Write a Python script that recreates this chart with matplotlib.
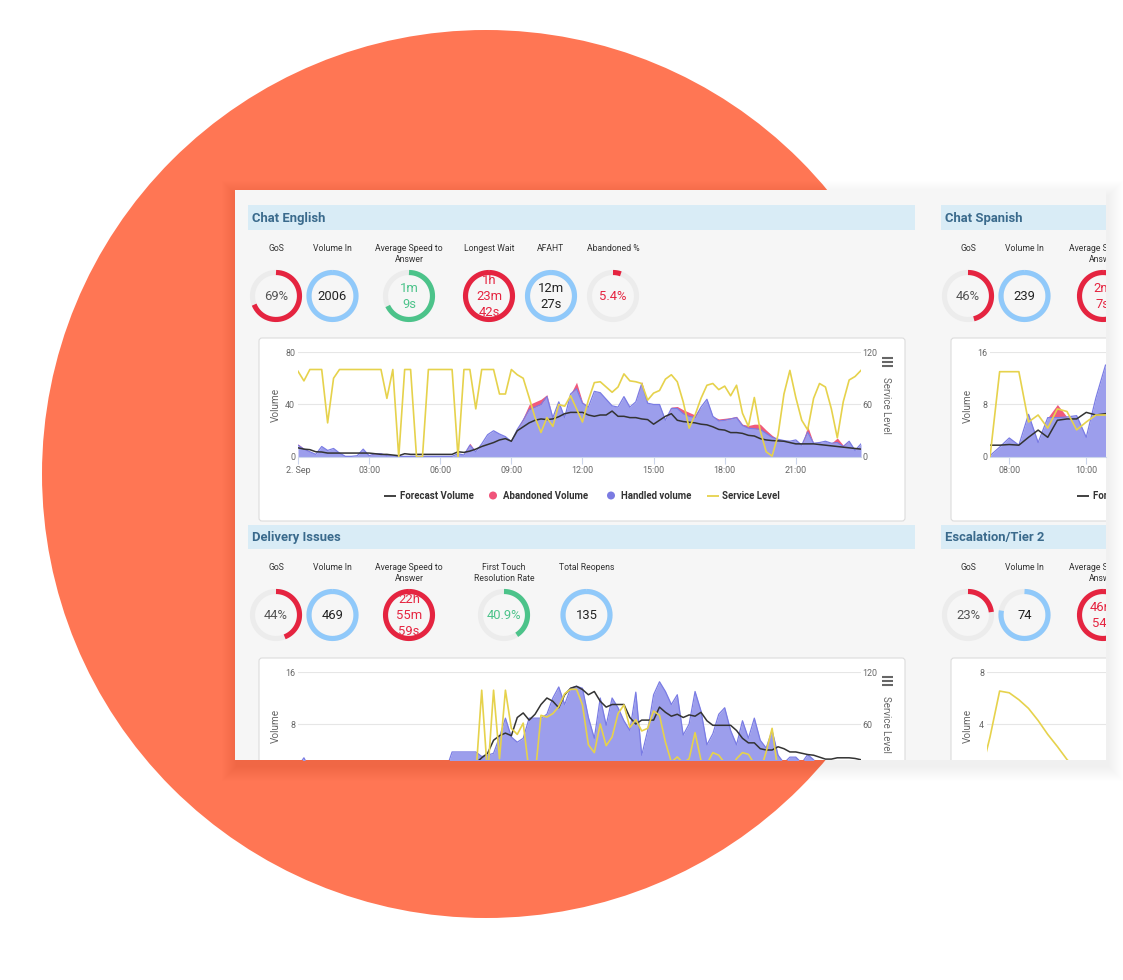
import numpy as np
import matplotlib
matplotlib.use("Agg")
import matplotlib.pyplot as plt
from matplotlib.patches import Rectangle, Circle, FancyBboxPatch

plt.rcParams['font.family'] = ['Roboto', 'DejaVu Sans']

W, H = 1123, 980

# ---------------- data ----------------
# 15-minute samples over the day (hours)
day_hours = [i * 0.25 for i in range(96)]
day_tick_hours = [0, 3, 6, 9, 12, 15, 18, 21]
day_tick_labels = ["2. Sep", "03:00", "06:00", "09:00", "12:00", "15:00", "18:00", "21:00"]

ce_handled = [9, 6, 4, 2, 8, 5, 6.5, 3, 0.5, 0.5,
              1, 6, 1, 2.5, 2.5, 1, 0.8, 0.5, 0.5, 0.5,
              0.5, 0.5, 0.5, 0.5, 0.5, 0.5, 0.5, 2.5, 1.5, 9,
              4, 10, 17, 20, 17.5, 15.5, 11.7, 21, 28, 36,
              38, 40, 46, 30, 42, 30, 48, 52, 41, 38,
              50, 49, 44, 39, 38, 46, 38, 42, 56, 41,
              40, 40, 28, 37, 37, 33, 31, 30, 38, 44,
              31, 27.5, 28, 29, 30, 24, 22, 21.5, 21, 18,
              15, 13.5, 12.5, 12, 13, 9, 19, 10.5, 11, 12,
              10.5, 11, 8, 12, 5, 10]
ce_abandoned = [1, 0.5, 0, 0, 0, 0, 0, 0, 0, 0,
                0, 0, 0, 0.5, 0.5, 0, 0, 0, 0, 0,
                0, 0, 0, 0, 0, 0, 0, 0, 0, 1.5,
                0, 0, 0, 0, 0, 0, 0, 0, 2, 4,
                4, 4, 1.5, 0, 0, 0, 0, 5, 1, 0,
                0, 0, 0, 0, 0, 0, 0, 0, 1.5, 0,
                0, 0, 0, 1, 1.5, 3, 3, 2, 0, 0,
                0, 1.5, 1.5, 1, 1, 1, 2, 3.5, 4, 2.5,
                1.5, 0, 0, 0, 0, 0, 4.5, 0, 0, 0,
                0, 3.5, 1, 0, 0, 0]
ce_forecast = [7, 6, 5.6, 4, 3.8, 3, 3, 3, 3, 3,
               3, 3, 3, 2.5, 2, 2, 1.5, 1, 2.5, 2,
               2, 2, 2, 2, 2, 2, 2, 4, 3.5, 4.5,
               6, 8, 9.5, 11, 13, 14, 12, 20, 23, 26,
               28, 29, 28.5, 29, 30.7, 33, 34, 34, 34, 32,
               31, 32, 32, 35, 31, 31, 30, 30, 29, 28.5,
               25, 28, 31, 33, 28, 27, 26.5, 26, 25, 24.5,
               23, 21, 20.5, 18.6, 18.6, 18, 16.5, 16, 14, 13,
               12.5, 12.3, 12, 11, 10, 10, 10, 10, 9.5, 9,
               8.5, 8, 7.5, 7, 6.5, 6]
ce_service = [98, 87, 100, 100, 100, 39, 90, 100, 100, 100,
              100, 100, 100, 100, 100, 67, 100, 0, 100, 100,
              0, 0, 100, 100, 100, 100, 100, 0, 100, 100,
              55, 100, 100, 100, 72, 72, 100, 94, 90, 68,
              45, 28, 45, 35, 60, 58, 70, 55, 40, 65,
              85, 86, 80, 74, 80, 95, 87, 86, 84, 65,
              73, 76, 89, 94, 86, 63, 33, 48, 67, 82,
              84, 77, 81, 70, 82, 50, 35, 68, 30, 6,
              1, 25, 72, 99, 68, 42, 31, 67, 84, 80,
              55, 22, 63, 88, 92, 99]

del_handled = [1.5, 2.8, 1, 0.5, 0.5, 0.5, 0.5, 0.5, 0.5, 0.5,
               0.5, 0.5, 0.5, 0.5, 0.5, 0.5, 0.5, 0.5, 0.5, 0.5,
               0.5, 0.5, 0.5, 0.5, 0.5, 1, 3.7, 3.7, 3.7, 3.7,
               3.7, 3.0, 3.2, 3.5, 6, 8.9, 6, 5.2, 5.8, 8.9,
               8.9, 8.9, 9.5, 12, 13.7, 11, 13.5, 13.8, 13.5, 9,
               5.8, 12, 7.8, 12, 10.5, 8.5, 7, 12.9, 3.2, 7,
               12.5, 14.5, 13, 11, 12.5, 6.3, 8, 13, 10, 4.8,
               6.5, 9.5, 10.5, 7, 4.8, 8.5, 5.8, 8.9, 5.5, 4.3,
               7, 3.2, 2, 2.9, 2.9, 2, 3.3, 2.5, 1.5, 1.5,
               1.5, 1.5, 1, 1, 1, 1]
del_abandoned = [0] * 96
del_forecast = [1, 1, 1, 1, 1, 1, 1, 1, 1, 1,
                1, 1, 1, 1, 1, 1, 1, 1, 1, 1,
                1, 1, 1, 1, 1, 1, 1.5, 1.5, 1.5, 1.5,
                2, 2.8, 3.5, 5.5, 6.2, 6.6, 6.2, 9, 9.7, 8.6,
                9.5, 11, 12, 11.5, 10.5, 12.5, 13.5, 13.8, 13.3, 12.5,
                13, 11.5, 10.6, 11, 11, 11, 9, 8, 8.6, 8.6,
                8.6, 10.6, 9.8, 9.2, 9.5, 9, 9.4, 9.2, 9.8, 8.5,
                7.8, 7.8, 7.8, 7.8, 7, 5.8, 5.1, 5.1, 4.2, 4,
                4, 4.5, 4.2, 3.7, 3.7, 3.5, 3.3, 3.2, 2.9, 2.6,
                2.6, 2.8, 2.8, 2.8, 2.7, 2.5]
del_service = [0, 0, 0, 0, 0, 0, 0, 0, 0, 0,
               0, 0, 0, 0, 0, 0, 0, 0, 0, 0,
               0, 0, 0, 0, 0, 0, 0, 0, 0, 0,
               0, 99, 0, 99, 20, 99, 55, 48, 61, 5,
               0, 70, 68, 72, 80, 95, 100, 100, 82, 36,
               27, 60, 35, 45, 72, 82, 56, 65, 52, 55,
               75, 70, 39, 16, 22, 15, 20, 50, 18, 14,
               27, 24, 15, 8, 20, 27, 25, 14, 5, 28,
               55, 5, 0, 0, 0, 0, 0, 0, 0, 0,
               0, 0, 0, 0, 0, 0]

sp_hours = [7.5 + 0.25 * k for k in range(13)]
sp_tick_hours = [8, 10]
sp_tick_labels = ["08:00", "10:00"]
sp_handled = [0.2, 1.5, 2.9, 1.8, 6.5, 2.2, 6, 6, 6.1, 6.3, 3, 9, 14]
sp_abandoned = [0, 0, 0, 0, 0, 0, 0, 2, 0, 0, 0, 0, 0]
sp_forecast = [1.8, 1.8, 1.9, 1.8, 3, 4.1, 3, 5.6, 5.8, 5.8, 6.8, 6.4, 6.6]
sp_service = [0, 97.5, 97.5, 97.5, 40, 48, 33, 55, 52, 31, 40, 48, 48]

esc_hours = [7.25, 7.5, 7.75, 8.0, 8.25, 8.5, 8.75, 9.0, 9.25, 9.5, 9.75, 10.0, 10.25, 10.5]
esc_service = [0, 45, 98, 96, 88, 78, 64, 48, 34, 19, 8, 0, 0, 0]

legend_labels = ["Forecast Volume", "Abandoned Volume", "Handled volume", "Service Level"]

# KPI gauges: label, shown value, filled fraction, kind
ce_kpi_labels = ["GoS", "Volume In", "Average Speed to\nAnswer", "Longest Wait", "AFAHT", "Abandoned %"]
ce_kpi_values = ["69%", "2006", "1m\n9s", "1h\n23m\n42s", "12m\n27s", "5.4%"]
ce_kpi_fracs = [0.69, 1.0, 0.68, 1.0, 1.0, 0.054]
ce_kpi_kinds = ["gos", "blue", "green", "red", "blue", "redtxt"]

del_kpi_labels = ["GoS", "Volume In", "Average Speed to\nAnswer", "First Touch\nResolution Rate", "Total Reopens"]
del_kpi_values = ["44%", "469", "22h\n55m\n59s", "40.9%", "135"]
del_kpi_fracs = [0.44, 1.0, 1.0, 0.409, 1.0]
del_kpi_kinds = ["gos", "blue", "red", "green", "blue"]

sp_kpi_labels = ["GoS", "Volume In", "Average Speed to\nAnswer"]
sp_kpi_values = ["46%", "239", "2m\n7s"]
sp_kpi_fracs = [0.46, 1.0, 1.0]
sp_kpi_kinds = ["gos", "blue", "red"]

esc_kpi_labels = ["GoS", "Volume In", "Average Speed to\nAnswer"]
esc_kpi_values = ["23%", "74", "46m\n54s"]
esc_kpi_fracs = [0.23, 0.78, 1.0]
esc_kpi_kinds = ["gos", "blue", "red"]

# ---------------- styles ----------------
ORANGE = '#ff7654'
PANEL = '#f6f6f6'
HEADER = '#d9ecf6'
HEADER_TXT = '#3a6a8c'
RED = '#e52440'
BLUE = '#90c9fa'
GREEN = '#4cc38a'
TRACK = '#ececec'
AREA_BLUE = '#9c9eec'
AREA_BLUE_EDGE = '#7a7ce4'
AREA_RED = '#f05a7c'
FORECAST = '#333333'
SERVICE = '#e6d24c'

KIND = {
    "gos": (RED, '#555555'),
    "blue": (BLUE, '#222222'),
    "green": (GREEN, GREEN),
    "red": (RED, RED),
    "redtxt": (RED, RED),
}

fig = plt.figure(figsize=(W / 100, H / 100), dpi=100)
fig.patch.set_facecolor('white')


def px_axes(x0, y0, x1, y1):
    return fig.add_axes([x0 / W, 1 - y1 / H, (x1 - x0) / W, (y1 - y0) / H])


# background: circle + soft shadow
bg = px_axes(0, 0, W, H)
bg.set_xlim(0, W)
bg.set_ylim(H, 0)
bg.axis('off')
bg.add_patch(Circle((486, 474), 444, facecolor=ORANGE, edgecolor='none', zorder=1))
for k in range(1, 16):
    bg.add_patch(Rectangle((235 - k + 2, 190 - k + 6), 871 + 2 * k, 570 + 2 * k,
                           facecolor='black', edgecolor='none', alpha=0.005, zorder=2))

# panel
pan = px_axes(235, 190, 1106, 760)
pan.set_xlim(235, 1106)
pan.set_ylim(760, 190)
pan.axis('off')
pan.add_patch(Rectangle((235, 190), 871, 570, facecolor=PANEL, edgecolor='none', zorder=0))


def header(x, y, w, h, title):
    pan.add_patch(Rectangle((x, y), w, h, facecolor=HEADER, edgecolor='none', zorder=1))
    pan.text(x + 4, y + h / 2 + 0.5, title, ha='left', va='center', fontsize=9.4,
             fontweight='bold', color=HEADER_TXT, clip_on=True, zorder=2)


header(248, 205, 667, 25, "Chat English")
header(941, 205, 220, 25, "Chat Spanish")
header(248, 525, 667, 24, "Delivery Issues")
header(941, 525, 220, 24, "Escalation/Tier 2")

R_G, LW_G = 23.5, 3.7


def gauge(cx, cy, frac, kind, value_text, label, label_y):
    ring_col, txt_col = KIND[kind]
    t = np.linspace(0, 2 * np.pi, 240)
    pan.plot(cx + R_G * np.sin(t), cy - R_G * np.cos(t), color=TRACK, lw=LW_G,
             solid_capstyle='butt', zorder=4)
    t = np.linspace(0, 2 * np.pi * frac, max(int(240 * frac), 6))
    pan.plot(cx + R_G * np.sin(t), cy - R_G * np.cos(t), color=ring_col, lw=LW_G,
             solid_capstyle='butt', zorder=5)
    pan.text(cx, cy + 0.5, value_text, ha='center', va='center', fontsize=9.4,
             color=txt_col, linespacing=1.3, zorder=3, clip_on=True)
    pan.text(cx, label_y, label, ha='center', va='top', fontsize=6.2,
             color='#333333', linespacing=1.3, zorder=3, clip_on=True)


for x, lab, val, fr, kd in zip([276, 332.5, 409, 489, 551, 613], ce_kpi_labels,
                               ce_kpi_values, ce_kpi_fracs, ce_kpi_kinds):
    gauge(x, 296, fr, kd, val, lab, 243.5)
for x, lab, val, fr, kd in zip([276, 332.5, 409, 504, 586.5], del_kpi_labels,
                               del_kpi_values, del_kpi_fracs, del_kpi_kinds):
    gauge(x, 615, fr, kd, val, lab, 563)
for x, lab, val, fr, kd in zip([968, 1024.5, 1103], sp_kpi_labels, sp_kpi_values,
                               sp_kpi_fracs, sp_kpi_kinds):
    gauge(x, 296, fr, kd, val, lab, 243.5)
for x, lab, val, fr, kd in zip([968, 1024.5, 1103], esc_kpi_labels, esc_kpi_values,
                               esc_kpi_fracs, esc_kpi_kinds):
    gauge(x, 615, fr, kd, val, lab, 563)


# chart boxes
def box(x, y, w, h):
    pan.add_patch(FancyBboxPatch((x, y), w, h, boxstyle='round,pad=0,rounding_size=3',
                                 facecolor='white', edgecolor='#dcdcdc', lw=0.8, zorder=1))


box(259, 338, 646, 183)
box(951, 338, 300, 183)
box(259, 658, 646, 200)
box(951, 658, 300, 200)


def hamburger(x, y):
    for dy in (0, 4, 8):
        pan.plot([x, x + 11], [y + dy, y + dy], color='#666666', lw=1.5,
                 solid_capstyle='butt', zorder=3)


hamburger(882, 358)
hamburger(882, 677)

# axis titles
for (x, y) in [(276, 405), (276, 726), (968, 406), (968, 726)]:
    pan.text(x, y, "Volume", rotation=90, ha='center', va='center', fontsize=7.2,
             color='#666666', clip_on=True, zorder=3)
for (x, y) in [(886, 405), (886, 724)]:
    pan.text(x, y, "Service Level", rotation=270, ha='center', va='center', fontsize=7.0,
             color='#666666', clip_on=True, zorder=3)


# legends
def legend_item(kind, color, x, text, tx, y=495.5):
    if kind == 'line':
        pan.plot([x, x + 12], [y, y], color=color, lw=1.3, solid_capstyle='butt', zorder=6)
    else:
        pan.add_patch(Circle((x, y), 4, facecolor=color, edgecolor='none', zorder=6))
    pan.text(tx, y, text, ha='left', va='center', fontsize=6.9, fontweight='bold',
             color='#333333', clip_on=True, zorder=6)


legend_item('line', FORECAST, 384, legend_labels[0], 400.5)
legend_item('dot', '#f0547a', 493, legend_labels[1], 503)
legend_item('dot', '#7b7be2', 611, legend_labels[2], 621)
legend_item('line', SERVICE, 707, legend_labels[3], 722.5)
legend_item('line', FORECAST, 1077, legend_labels[0], 1093)


def chart(rect, xlim, vlim, slim, vticks, sticks, hours, handled, abandoned, forecast,
          service, xticks=None, xlabels=None, show_right=True, show_bottom=True):
    ax = px_axes(*rect)
    ax.set_facecolor('none')
    ax.set_xlim(*xlim)
    ax.set_ylim(*vlim)
    if handled is not None:
        h = np.array(handled, dtype=float)
        a = np.array(abandoned, dtype=float)
        ax.fill_between(hours, 0, h, color=AREA_BLUE, lw=0, zorder=2)
        ax.fill_between(hours, h, h + a, color=AREA_RED, lw=0, zorder=2)
        ax.plot(hours, h, color=AREA_BLUE_EDGE, lw=0.9, zorder=3)
        ax.plot(hours, forecast, color=FORECAST, lw=1.1, zorder=4)
    for s in ('top', 'left', 'right'):
        ax.spines[s].set_visible(False)
    ax.spines['bottom'].set_visible(show_bottom)
    ax.spines['bottom'].set_color('#ccd6eb')
    ax.set_yticks(vticks)
    ax.yaxis.grid(True, color='#e6e6e6', lw=0.8)
    ax.set_axisbelow(True)
    ax.tick_params(axis='y', length=0, labelsize=6.4, labelcolor='#666666', pad=2)
    if xticks is not None:
        ax.set_xticks(xticks)
        ax.set_xticklabels(xlabels)
        ax.tick_params(axis='x', length=5, color='#ccd6eb', labelsize=6.4,
                       labelcolor='#666666', pad=1.5)
    else:
        ax.set_xticks([])
    ax2 = ax.twinx()
    ax2.set_ylim(*slim)
    ax2.plot(hours, service, color=SERVICE, lw=1.2, zorder=5)
    for s in ax2.spines.values():
        s.set_visible(False)
    if show_right:
        ax2.set_yticks(sticks)
        ax2.tick_params(axis='y', length=0, labelsize=6.4, labelcolor='#666666', pad=1)
    else:
        ax2.set_yticks([])
    return ax, ax2


# Chat English
chart((298, 352, 861, 457), (0, 23.75), (0, 80), (0, 120), [0, 40, 80], [0, 60, 120],
      day_hours, ce_handled, ce_abandoned, ce_forecast, ce_service,
      xticks=day_tick_hours, xlabels=day_tick_labels)

# Delivery Issues (only the upper part is visible)
d_bottom = 16 - 88 / 6.5
chart((298, 672, 861, 760), (0, 23.75), (d_bottom, 16), (d_bottom * 7.5, 120), [8, 16],
      [60, 120], day_hours, del_handled, del_abandoned, del_forecast, del_service,
      show_bottom=False)

# Chat Spanish (cut by the panel edge)
sp_end = 7.5 + 116 / 38.5
chart((990, 352, 1106, 457), (7.5, sp_end), (0, 16), (0, 120), [0, 8, 16], [],
      sp_hours, sp_handled, sp_abandoned, sp_forecast, sp_service,
      xticks=sp_tick_hours, xlabels=sp_tick_labels, show_right=False)

# Escalation/Tier 2
e_bottom = 8 - 88 / 13
chart((987, 672, 1106, 760), (7.5 - 3 / 38.5, sp_end), (e_bottom, 8), (e_bottom * 15, 120),
      [4, 8], [], esc_hours, None, None, None, esc_service,
      show_right=False, show_bottom=False)

fig.savefig('out.png', dpi=100, facecolor='white')
